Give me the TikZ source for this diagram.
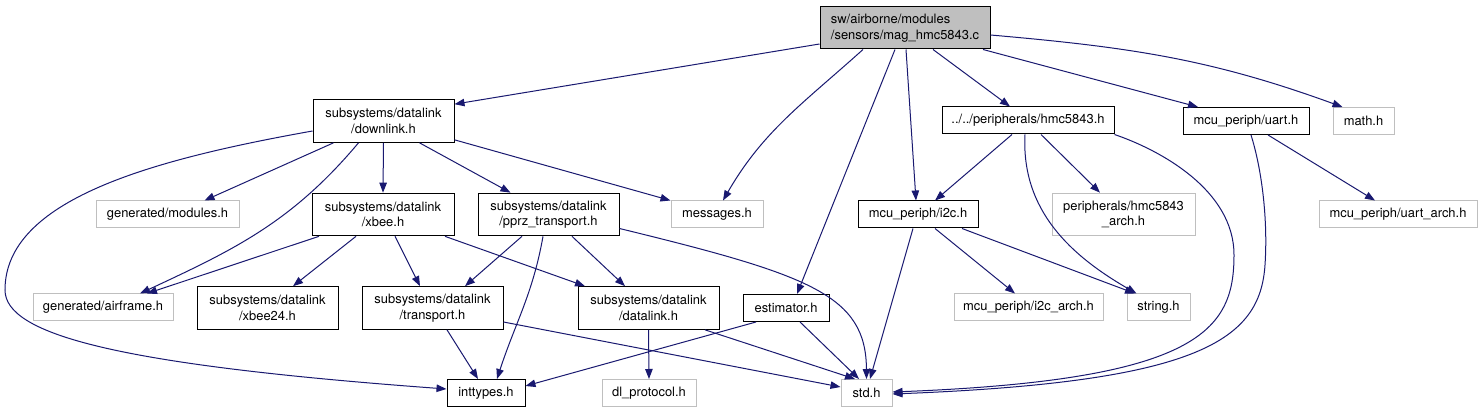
\documentclass[tikz,border=0pt]{standalone}
\usepackage{fontspec}
\setmainfont{TeX Gyre Heros}
\usetikzlibrary{arrows.meta}
\definecolor{edgeblue}{HTML}{191970}
\definecolor{boxgray}{HTML}{BFBFBF}
\tikzset{
  hdr/.style={draw=black, fill=white, line width=0.75pt, align=center,
    font=\fontsize{9.7}{11.6}\selectfont, inner xsep=2pt, inner ysep=0pt,
    minimum width=#1*0.75pt, minimum height=20.25pt},
  hdrtwo/.style={hdr=#1, minimum height=32pt},
  ext/.style={hdr=#1, draw=boxgray},
  exttwo/.style={hdrtwo=#1, draw=boxgray},
  rootfile/.style={hdrtwo=170, fill=boxgray, align=left, minimum height=31.5pt},
  dep/.style={edgeblue, line width=0.75pt, -{Triangle[length=7.5pt,width=5.6pt]}},
}
\begin{document}
\begin{tikzpicture}[x=0.75pt,y=-0.75pt]
		\path[use as bounding box, fill=white] (0,0) rectangle (1482,413);
		%Top
		\node[rootfile] (root) at (905,28) {sw/airborne/modules\\/sensors/mag\_hmc5843.c};
		%First Row
		\node[hdrtwo=141] (downlink) at (383.5,121) {subsystems/datalink\\/downlink.h};
		\node[hdr=172] (hmc) at (1028,120.5) {../../peripherals/hmc5843.h};
		\node[hdr=126] (uart) at (1246,121) {mcu\_periph/uart.h};
		\node[ext=61] (math) at (1363.5,121) {math.h};
		%Second Row
		\node[ext=143] (modules) at (167.5,214.5) {generated/modules.h};
		\node[hdrtwo=142] (xbee) at (383,214.5) {subsystems/datalink\\/xbee.h};
		\node[hdrtwo=141] (pprz) at (548.5,214.5) {subsystems/datalink\\/pprz\_transport.h};
		\node[ext=92] (messages) at (717,214.5) {messages.h};
		\node[hdr=120] (i2c) at (918,214.5) {mcu\_periph/i2c.h};
		\node[exttwo=143] (hmcarch) at (1123.5,214.5) {peripherals/hmc5843\\\_arch.h};
		\node[ext=158] (uartarch) at (1398,214.5) {mcu\_periph/uart\_arch.h};
		%Third Row
		\node[ext=140] (airframe) at (103,307.5) {generated/airframe.h};
		\node[hdrtwo=141] (xbeetwo) at (267.5,308) {subsystems/datalink\\/xbee24.h};
		\node[hdrtwo=141] (transport) at (432.5,308) {subsystems/datalink\\/transport.h};
		\node[hdrtwo=141] (datalink) at (648.5,308) {subsystems/datalink\\/datalink.h};
		\node[hdr=86] (estimator) at (786,308) {estimator.h};
		\node[ext=149] (i2carch) at (1028.5,307.5) {mcu\_periph/i2c\_arch.h};
		\node[ext=63] (string) at (1158.5,307.5) {string.h};
		%Bottom Row
		\node[hdr=78] (inttypes) at (486,393) {inttypes.h};
		\node[ext=94] (dlproto) at (649,393) {dl\_protocol.h};
		\node[ext=51] (std) at (866.5,393) {std.h};
		%Edges from the source file
		\draw[dep] ([shift={(0,16)}]root.west) -- ([shift={(0,5)}]downlink.north east);
		\draw[dep] ([shift={(-42,0)}]root.south) to[out=-138,in=60] ([shift={(6,0)}]messages.north);
		\draw[dep] ([shift={(-10,0)}]root.south) -- ([shift={(11,0)}]estimator.north);
		\draw[dep] ([shift={(1,0)}]root.south) -- ([shift={(-2,0)}]i2c.north);
		\draw[dep] ([shift={(28,0)}]root.south) -- ([shift={(-18,0)}]hmc.north);
		\draw[dep] ([shift={(78,0)}]root.south) -- ([shift={(-48,0)}]uart.north);
		\draw[dep] ([shift={(0,7)}]root.east) to[out=-5,in=160] ([shift={(-21,0)}]math.north);
		%downlink.h
		\draw[dep] ([shift={(-50,0)}]downlink.south) -- ([shift={(37,0)}]modules.north);
		\draw[dep] ([shift={(-25,0)}]downlink.south) to[out=-130,in=25] ([shift={(37,0)}]airframe.north);
		\draw[dep] (downlink.south) -- (xbee.north);
		\draw[dep] ([shift={(36,0)}]downlink.south) -- ([shift={(-38,0)}]pprz.north);
		\draw[dep] ([shift={(0,-3)}]downlink.south east) -- (messages.north west);
		\draw[dep] ([shift={(0,10)}]downlink.west) .. controls (150,160) and (5,200) .. (5,290)
		  .. controls (5,335) and (120,365) .. ([shift={(0,-4)}]inttypes.west);
		%xbee.h
		\draw[dep] ([shift={(-64,0)}]xbee.south) -- ([shift={(44,0)}]airframe.north);
		\draw[dep] ([shift={(-27,0)}]xbee.south) -- ([shift={(25.5,0)}]xbeetwo.north);
		\draw[dep] ([shift={(12,0)}]xbee.south) -- ([shift={(-12.5,0)}]transport.north);
		\draw[dep] ([shift={(62,0)}]xbee.south) -- ([shift={(-63.5,0)}]datalink.north);
		%pprz_transport.h
		\draw[dep] ([shift={(-26.5,0)}]pprz.south) -- ([shift={(32.5,0)}]transport.north);
		\draw[dep] ([shift={(-5.5,0)}]pprz.south) to[out=-100,in=72] ([shift={(11,0)}]inttypes.north);
		\draw[dep] ([shift={(23.5,0)}]pprz.south) -- ([shift={(-23.5,0)}]datalink.north);
		\draw[dep] ([shift={(0,14)}]pprz.east) .. controls (810,275) and (866,295) .. (std.north);
		%transport.h, datalink.h, estimator.h
		\draw[dep] ([shift={(14.5,0)}]transport.south) -- ([shift={(-8,0)}]inttypes.north);
		\draw[dep] ([shift={(0,14)}]transport.east) -- ([shift={(0,-6)}]std.west);
		\draw[dep] (datalink.south) -- (dlproto.north);
		\draw[dep] ([shift={(56.5,0)}]datalink.south) -- ([shift={(-11.5,0)}]std.north);
		\draw[dep] ([shift={(-30,0)}]estimator.south) -- ([shift={(0,-7)}]inttypes.east);
		\draw[dep] ([shift={(14,0)}]estimator.south) -- ([shift={(-7.5,0)}]std.north);
		%i2c.h
		\draw[dep] ([shift={(-5,0)}]i2c.south) -- ([shift={(3.5,0)}]std.north);
		\draw[dep] ([shift={(17,0)}]i2c.south) -- ([shift={(-13.5,0)}]i2carch.north);
		\draw[dep] ([shift={(44,0)}]i2c.south) -- ([shift={(-23.5,0)}]string.north);
		%hmc5843.h
		\draw[dep] ([shift={(-16,0)}]hmc.south) -- ([shift={(17,0)}]i2c.north);
		\draw[dep] ([shift={(13,0)}]hmc.south) -- ([shift={(-23.5,0)}]hmcarch.north);
		\draw[dep] ([shift={(-3,0)}]hmc.south) to[out=-93,in=150] ([shift={(-22,0)}]string.north);
		\draw[dep] (hmc.south east) .. controls (1160,150) and (1234,190) .. (1234,255)
		  .. controls (1234,330) and (1200,380) .. ([shift={(0,-1)}]std.east);
		%uart.h
		\draw[dep] ([shift={(5,0)}]uart.south) .. controls (1262,170) and (1268,220) .. (1265,265)
		  .. controls (1260,340) and (1200,382) .. ([shift={(0,1)}]std.east);
		\draw[dep] ([shift={(22,0)}]uart.south) -- ([shift={(-23,0)}]uartarch.north);
\end{tikzpicture}
\end{document}
